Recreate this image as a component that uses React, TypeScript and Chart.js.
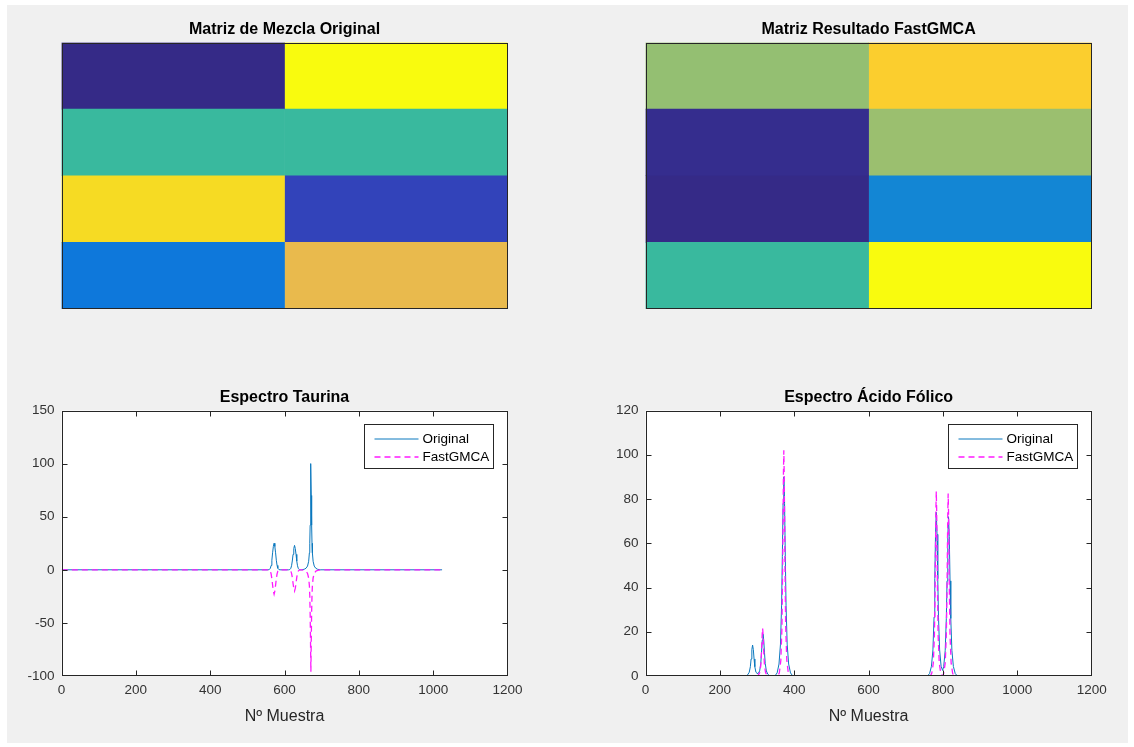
import React, { useEffect, useRef } from 'react';
import { Chart, registerables } from 'chart.js';

Chart.register(...registerables);

const FONT = '"Liberation Sans", Arial, Helvetica, sans-serif';
Chart.defaults.font.family = FONT;

// ---------- DATA ----------
const heatRows = ['1', '2', '3', '4'];
const heatCols = ['1', '2'];
// normalised matrix values (0 = lowest, 1 = highest in colormap)
const mezclaOriginal = [
  [0.0, 1.0],
  [0.508, 0.508],
  [0.929, 0.063],
  [0.198, 0.794],
];
const resultadoFastGMCA = [
  [0.638, 0.889],
  [0.008, 0.651],
  [0.0, 0.254],
  [0.508, 1.0],
];

const seriesLabels = ['Original', 'FastGMCA'];

const taurinaOriginal: number[][] = [
  [1, 0], [556, 0],
  [559, 0.2], [562, 1.5], [564, 4.1], [566, 9], [568, 16], [570, 22], [572, 25], [574, 22], [576, 16], [578, 9], [580, 4.1], [582, 1.5], [585, 0.2], [588, 0],
  [611, 0], [614, 0.2], [617, 1.4], [619, 3.8], [621, 8.3], [623, 14.5], [625, 20], [627, 23], [629, 20], [631, 14.5], [633, 8.3], [635, 3.8], [637, 1.4], [640, 0.2], [643, 0],
  [646, 0], [653, 0.5], [658, 1.5], [662, 3.5], [665, 8], [667, 16], [668, 25], [669, 42], [670, 70], [671, 100], [672, 70], [673, 42], [674, 25], [675, 16], [677, 8], [680, 3.5], [684, 1.5], [689, 0.5], [696, 0],
  [1024, 0],
];
const taurinaFast: number[][] = [
  [1, 0], [556, 0],
  [559, -0.2], [562, -1.4], [564, -3.8], [566, -8.3], [568, -14.5], [570, -20], [572, -23], [574, -20], [576, -14.5], [578, -8.3], [580, -3.8], [582, -1.4], [585, -0.2], [588, 0],
  [611, 0], [614, -0.2], [617, -1.2], [619, -3.3], [621, -7.2], [623, -12.7], [625, -17.5], [627, -20], [629, -17.5], [631, -12.7], [633, -7.2], [635, -3.3], [637, -1.2], [640, -0.2], [643, 0],
  [646, 0], [653, -0.5], [658, -1.4], [662, -3.4], [665, -7.7], [667, -15], [668, -24], [669, -40], [670, -67], [671, -96], [672, -67], [673, -40], [674, -24], [675, -15], [677, -7.7], [680, -3.4], [684, -1.4], [689, -0.5], [696, 0],
  [1024, 0],
];
const folicoOriginal: number[][] = [
  [1, 0], [270, 0],
  [275, 0.6], [279, 1.7], [282, 4.2], [284, 7.7], [286, 11.9], [288, 14], [290, 11.9], [292, 7.7], [294, 4.2], [297, 1.7],
  [300, 1.2], [303, 1.1], [307, 2.3], [310, 5.7], [312, 10.5], [314, 16.2], [316, 19], [318, 16.2], [320, 10.5], [322, 5.7], [325, 2.3], [329, 0.8], [334, 0],
  [348, 0], [354, 1.4], [359, 5.4], [363, 14.4], [366, 32], [368, 54], [370, 78], [372, 90], [374, 78], [376, 54], [378, 32], [381, 14.4], [385, 5.4], [390, 1.4], [396, 0],
  [758, 0], [764, 1.1], [769, 4.4], [773, 11.8], [776, 26.6], [778, 44], [780, 64], [782, 74], [784, 64], [786, 44], [788, 26.6], [791, 11.8], [795, 4.4],
  [799, 2.5], [802, 4.3], [806, 11.5], [809, 26], [811, 43], [813, 63], [815, 72], [817, 63], [819, 43], [821, 26], [824, 11.5], [828, 4.3], [833, 1.1], [839, 0],
  [1024, 0],
];
const folicoFast: number[][] = [
  [1, 0], [299, 0],
  [303, 0.3], [307, 1.5], [310, 4.7], [312, 10.8], [313, 15], [314, 19.4], [315, 21.5], [316, 19.4], [317, 15], [318, 10.8], [320, 4.7], [323, 1.5], [327, 0.3], [331, 0],
  [356, 0], [360, 1.5], [364, 7.1], [367, 22.4], [369, 51], [370, 71], [371, 92], [372, 102], [373, 92], [374, 71], [375, 51], [377, 22.4], [380, 7.1], [384, 1.5], [388, 0],
  [766, 0], [770, 1.3], [774, 5.8], [777, 18.4], [779, 42], [780, 58], [781, 75], [782, 83.5], [783, 75], [784, 58], [785, 42], [787, 18.4], [790, 5.8], [794, 1.3], [798, 0],
  [800, 0.2], [802, 1.2], [806, 5.8], [809, 18.2], [811, 41], [812, 58], [813, 74], [814, 82.5], [815, 74], [816, 58], [817, 41], [819, 18.2], [822, 5.8], [826, 1.2], [830, 0],
  [1024, 0],
];

const xTickRange = { min: 0, max: 1200, step: 200 };
const taurinaY = { min: -100, max: 150, step: 50 };
const folicoY = { min: 0, max: 120, step: 20 };

// ---------- STYLE ----------
const PARULA = [
  [53, 42, 135], [50, 67, 186], [3, 99, 225], [13, 117, 220], [20, 133, 212], [9, 152, 209],
  [6, 167, 198], [21, 177, 180], [51, 184, 161], [94, 189, 137], [140, 191, 117], [177, 190, 102],
  [211, 187, 88], [242, 185, 73], [253, 201, 50], [245, 222, 33], [249, 251, 14],
];
function parula(v: number): string {
  const t = Math.max(0, Math.min(1, v)) * (PARULA.length - 1);
  const i = Math.min(Math.floor(t), PARULA.length - 2);
  const f = t - i;
  const a = PARULA[i], b = PARULA[i + 1];
  const c = a.map((x, k) => Math.round(x + (b[k] - x) * f));
  return `rgb(${c[0]},${c[1]},${c[2]})`;
}

const AXIS_COLOR = '#262626';
const BLUE = '#0b78be';
const MAGENTA = '#ff1aff';

const matPlugin = {
  id: 'matStyle',
  beforeDatasetsDraw(chart: any, _args: any, opts: any) {
    if (!opts.whiteBg) return;
    const ctx = chart.ctx;
    const ca = chart.chartArea;
    ctx.save();
    ctx.fillStyle = '#ffffff';
    ctx.fillRect(ca.left, ca.top, ca.right - ca.left, ca.bottom - ca.top);
    ctx.restore();
  },
  afterDatasetsDraw(chart: any, _args: any, opts: any) {
    const ctx = chart.ctx;
    const ca = chart.chartArea;
    const l = Math.round(ca.left) + 0.5, r = Math.round(ca.right) - 0.5;
    const t = Math.round(ca.top) + 0.5, b = Math.round(ca.bottom) - 0.5;
    ctx.save();
    ctx.strokeStyle = AXIS_COLOR;
    ctx.lineWidth = 1;
    if (opts.ticks) {
      const len = 5;
      const xs = chart.scales.x, ys = chart.scales.y;
      ctx.beginPath();
      xs.ticks.forEach((tk: any) => {
        const px = Math.min(r, Math.max(l, Math.round(xs.getPixelForValue(tk.value)) + 0.5));
        ctx.moveTo(px, b); ctx.lineTo(px, b - len);
        ctx.moveTo(px, t); ctx.lineTo(px, t + len);
      });
      ys.ticks.forEach((tk: any) => {
        const py = Math.min(b, Math.max(t, Math.round(ys.getPixelForValue(tk.value)) + 0.5));
        ctx.moveTo(l, py); ctx.lineTo(l + len, py);
        ctx.moveTo(r, py); ctx.lineTo(r - len, py);
      });
      ctx.stroke();
    }
    ctx.strokeRect(l, t, r - l, b - t);

    if (opts.title) {
      ctx.fillStyle = '#000';
      ctx.font = `bold 16px ${FONT}`;
      ctx.textAlign = 'center';
      ctx.textBaseline = 'middle';
      ctx.fillText(opts.title, (ca.left + ca.right) / 2, ca.top - 12.5);
    }

    if (opts.legend) {
      const w = 129, h = 44;
      const bx = Math.round(ca.right - 15 - w) + 0.5;
      const by = Math.round(ca.top + 13.5) + 0.5;
      ctx.fillStyle = '#ffffff';
      ctx.fillRect(bx, by, w, h);
      ctx.strokeStyle = AXIS_COLOR;
      ctx.strokeRect(bx, by, w, h);
      chart.data.datasets.forEach((ds: any, i: number) => {
        const y = by + 14.5 + i * 18;
        ctx.beginPath();
        ctx.strokeStyle = ds.borderColor;
        ctx.lineWidth = ds.borderWidth;
        ctx.setLineDash(ds.borderDash || []);
        ctx.moveTo(bx + 10, y);
        ctx.lineTo(bx + 54, y);
        ctx.stroke();
        ctx.setLineDash([]);
        ctx.fillStyle = '#000';
        ctx.font = `13.5px ${FONT}`;
        ctx.textAlign = 'left';
        ctx.textBaseline = 'middle';
        ctx.fillText(ds.label, bx + 58, y + 0.5);
      });
    }
    ctx.restore();
  },
};

function heatConfig(matrix: number[][], title: string, pad: any) {
  return {
    type: 'bar',
    data: {
      labels: heatRows,
      datasets: heatCols.map((_c, ci) => ({
        label: 'col' + heatCols[ci],
        data: heatRows.map(() => 1),
        backgroundColor: matrix.map((row) => parula(row[ci])),
        borderWidth: 0,
        barPercentage: 1,
        categoryPercentage: 1,
      })),
    },
    options: {
      indexAxis: 'y',
      animation: false,
      responsive: false,
      layout: { padding: pad },
      plugins: { legend: { display: false }, tooltip: { enabled: false }, matStyle: { title, ticks: false, legend: false, whiteBg: false } },
      scales: {
        x: { display: false, stacked: true, min: 0, max: heatCols.length },
        y: { display: false, stacked: true },
      },
    },
    plugins: [matPlugin],
  };
}

function toPoints(arr: number[][]) {
  return arr.map(([x, y]) => ({ x, y }));
}

function spectrumConfig(orig: number[][], fast: number[][], yr: any, title: string, pad: any) {
  return {
    type: 'scatter',
    data: {
      datasets: [
        {
          label: seriesLabels[0],
          data: toPoints(orig),
          showLine: true,
          borderColor: BLUE,
          borderWidth: 1,
          pointRadius: 0,
          tension: 0,
          order: 1,
        },
        {
          label: seriesLabels[1],
          data: toPoints(fast),
          showLine: true,
          borderColor: MAGENTA,
          borderWidth: 1.3,
          borderDash: [6, 4],
          pointRadius: 0,
          tension: 0,
          order: 0,
        },
      ],
    },
    options: {
      animation: false,
      responsive: false,
      layout: { padding: pad },
      plugins: { legend: { display: false }, tooltip: { enabled: false }, matStyle: { title, ticks: true, legend: true, whiteBg: true } },
      scales: {
        x: {
          type: 'linear',
          min: xTickRange.min,
          max: xTickRange.max,
          ticks: { stepSize: xTickRange.step, color: '#333', font: { size: 13.5 }, padding: 6, maxRotation: 0, callback: (v: any) => String(v) },
          grid: { display: false, drawTicks: false },
          border: { display: false },
          title: { display: true, text: 'Nº Muestra', color: '#262626', font: { size: 16 }, padding: { top: 4, bottom: 4 } },
          afterFit: (s: any) => { s.height = 54; },
        },
        y: {
          type: 'linear',
          min: yr.min,
          max: yr.max,
          ticks: { stepSize: yr.step, color: '#333', font: { size: 13.5 }, padding: 7, callback: (v: any) => String(v) },
          grid: { display: false, drawTicks: false },
          border: { display: false },
          afterFit: (s: any) => { s.width = 50; },
        },
      },
    },
    plugins: [matPlugin],
  };
}

function Panel({ left, top, width, height, config }: any) {
  const ref = useRef<HTMLCanvasElement>(null);
  useEffect(() => {
    const chart = new Chart(ref.current as HTMLCanvasElement, config);
    return () => chart.destroy();
  }, []);
  return (
    <canvas
      ref={ref}
      width={width}
      height={height}
      style={{ position: 'absolute', left, top, width, height }}
    />
  );
}

export default function App() {
  return (
    <div style={{ position: 'absolute', left: 0, top: 0, width: 1134, height: 747, background: '#ffffff', overflow: 'hidden' }}>
      <div style={{ position: 'absolute', left: 7, top: 5, width: 1121, height: 738, background: '#f0f0f0' }} />
      <Panel left={0} top={0} width={567} height={340}
        config={heatConfig(mezclaOriginal, 'Matriz de Mezcla Original', { left: 61.5, top: 42.5, right: 59.5, bottom: 31 })} />
      <Panel left={567} top={0} width={567} height={340}
        config={heatConfig(resultadoFastGMCA, 'Matriz Resultado FastGMCA', { left: 78.5, top: 42.5, right: 42.3, bottom: 31 })} />
      <Panel left={0} top={370} width={567} height={377}
        config={spectrumConfig(taurinaOriginal, taurinaFast, taurinaY, 'Espectro Taurina', { left: 11.5, top: 40.5, right: 59.5, bottom: 17 })} />
      <Panel left={567} top={370} width={567} height={377}
        config={spectrumConfig(folicoOriginal, folicoFast, folicoY, 'Espectro Ácido Fólico', { left: 28.5, top: 40.5, right: 42.3, bottom: 17 })} />
    </div>
  );
}
